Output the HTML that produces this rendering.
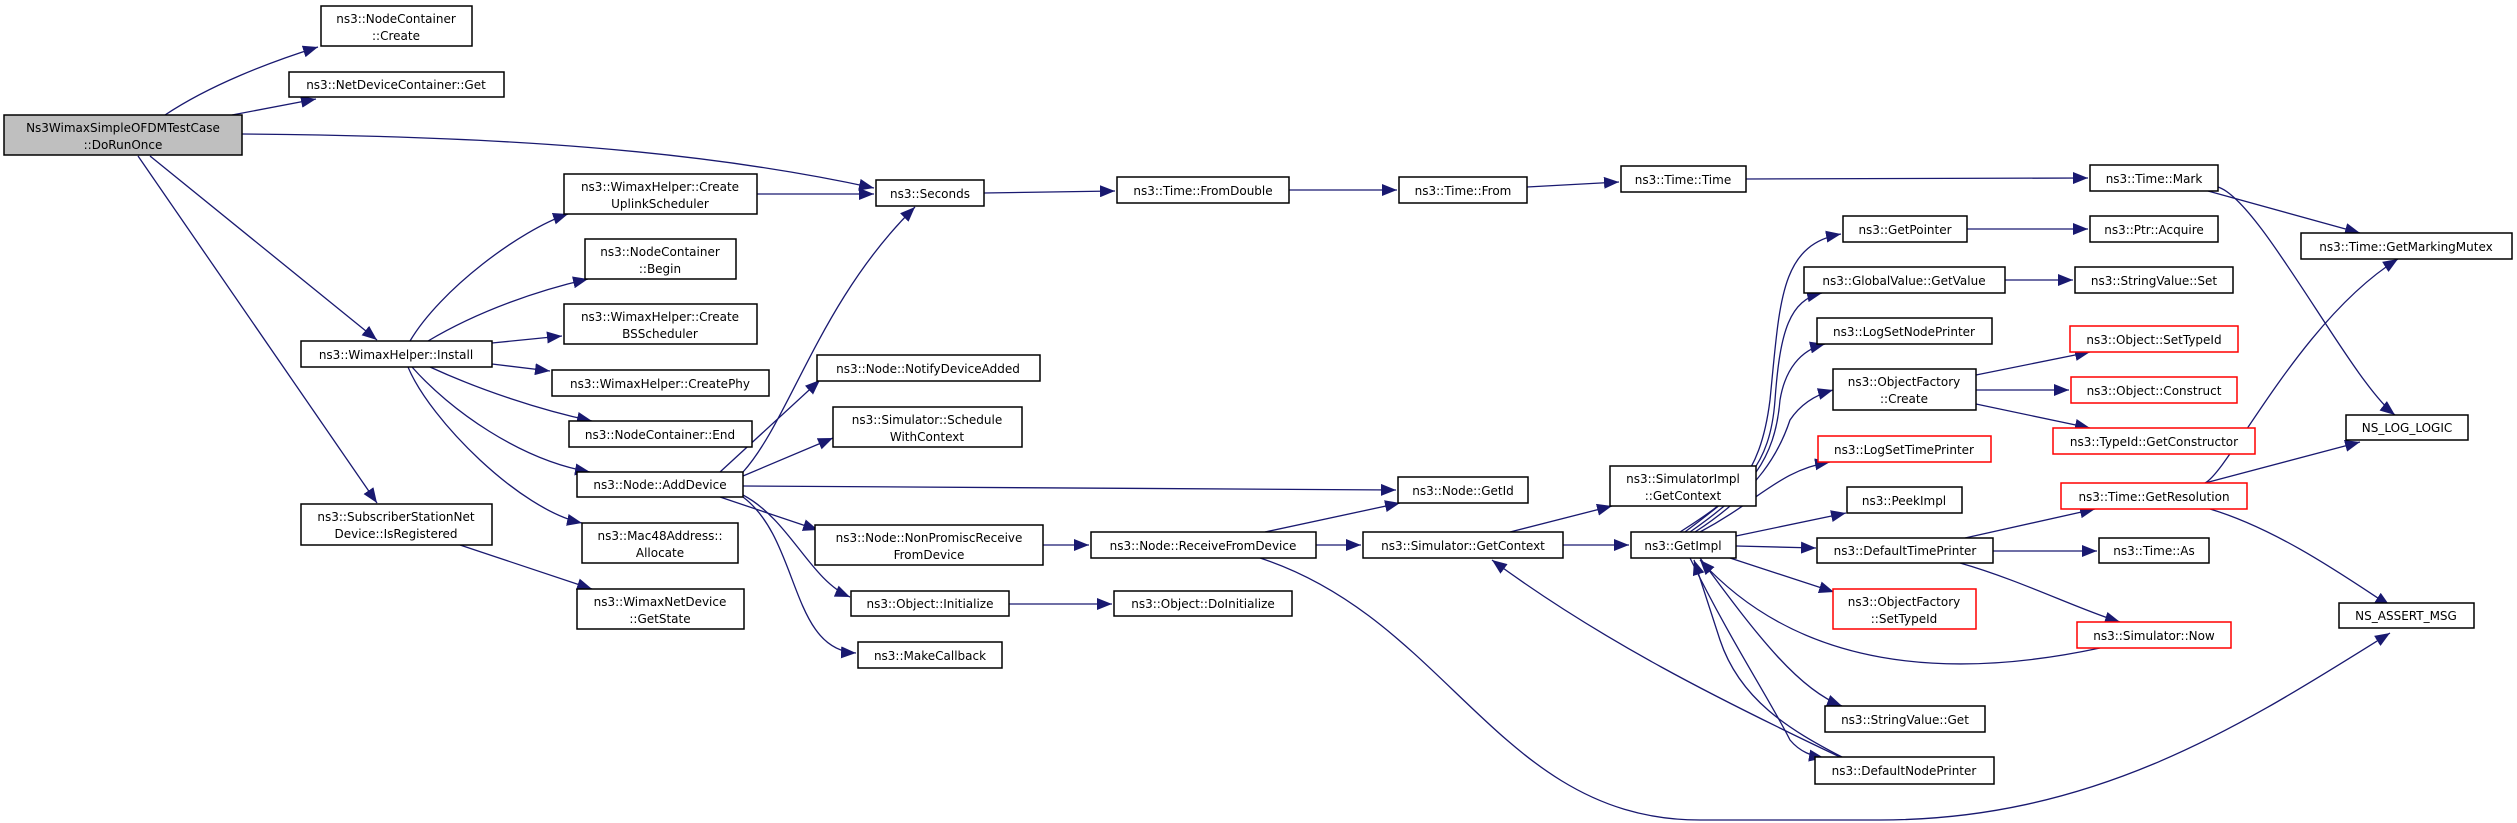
<!DOCTYPE html>
<html><head><meta charset="utf-8"><style>
html,body{margin:0;padding:0;background:#fff;}
svg{display:block;}
text{font-family:"DejaVu Sans","Liberation Sans",sans-serif;font-size:12px;fill:#000;text-anchor:middle;}
.n{fill:#fff;stroke:#000;stroke-width:1.5;}
.r{fill:#fff;stroke:#ff0000;stroke-width:1.5;}
.g{fill:#bfbfbf;stroke:#000;stroke-width:1.5;}
path.e{fill:none;stroke:#191970;stroke-width:1.3;marker-end:url(#a);}
</style></head><body>
<svg width="2517" height="823" viewBox="0 0 2517 823" xmlns="http://www.w3.org/2000/svg">
<defs><marker id="a" markerUnits="userSpaceOnUse" markerWidth="16" markerHeight="12" refX="15" refY="6" orient="auto"><path d="M0,0 L15,6 L0,12 z" fill="#191970"/></marker></defs>

<!-- edges -->
<path class="e" d="M165,115 C210,85 270,62 318,47"/>
<path class="e" d="M232,115 L316,99"/>
<path class="e" d="M242,134 C500,136 700,150 874,188"/>
<path class="e" d="M150,156 L377,340"/>
<path class="e" d="M138,156 L377,503"/>
<path class="e" d="M460,545 L592,589"/>
<path class="e" d="M410,341 C440,290 520,230 568,214"/>
<path class="e" d="M428,341 C480,310 540,290 588,279"/>
<path class="e" d="M492,343 L562,336"/>
<path class="e" d="M492,364 L550,371"/>
<path class="e" d="M430,367 C480,390 540,410 592,421"/>
<path class="e" d="M412,367 C450,410 520,460 590,472"/>
<path class="e" d="M408,367 C430,420 520,510 582,523"/>
<path class="e" d="M757,194 L874,194"/>
<path class="e" d="M743,472 C790,420 820,300 915,207"/>
<path class="e" d="M720,472 L820,380"/>
<path class="e" d="M743,476 L833,438"/>
<path class="e" d="M743,486 L1396,490"/>
<path class="e" d="M720,497 L818,530"/>
<path class="e" d="M743,495 C790,520 810,580 850,597"/>
<path class="e" d="M743,497 C800,540 790,650 856,653"/>
<path class="e" d="M1043,545 L1089,545"/>
<path class="e" d="M1265,532 L1400,503"/>
<path class="e" d="M1316,545 L1361,545"/>
<path class="e" d="M1260,558 C1450,620 1500,820 1700,820 L1880,820 C2100,820 2250,720 2390,633"/>
<path class="e" d="M1009,604 L1112,604"/>
<path class="e" d="M1510,532 L1612,506"/>
<path class="e" d="M1563,545 L1629,545"/>
<path class="e" d="M984,193 L1115,191"/>
<path class="e" d="M1289,190 L1397,190"/>
<path class="e" d="M1527,187 L1619,182"/>
<path class="e" d="M1746,179 L2088,178"/>
<path class="e" d="M2208,191 L2360,233"/>
<path class="e" d="M2218,187 C2260,200 2350,380 2395,415"/>
<path class="e" d="M1967,229 L2088,229"/>
<path class="e" d="M2005,280 L2073,280"/>
<path class="e" d="M1976,375 L2090,352"/>
<path class="e" d="M1976,390 L2069,390"/>
<path class="e" d="M1976,404 L2090,428"/>
<path class="e" d="M1680,532 C1730,500 1760,480 1770,400 C1780,300 1780,245 1841,234"/>
<path class="e" d="M1685,532 C1740,490 1770,470 1775,400 C1780,330 1790,300 1822,293"/>
<path class="e" d="M1690,532 C1750,490 1775,460 1780,400 C1785,370 1800,350 1825,344"/>
<path class="e" d="M1695,532 C1760,490 1780,450 1790,420 C1800,405 1815,395 1833,390"/>
<path class="e" d="M1700,532 C1760,500 1780,470 1830,462"/>
<path class="e" d="M1736,536 L1846,513"/>
<path class="e" d="M1736,546 L1816,548"/>
<path class="e" d="M1730,558 L1834,592"/>
<path class="e" d="M1700,558 C1760,640 1800,690 1842,706"/>
<path class="e" d="M1690,558 C1730,640 1770,700 1790,740 C1800,752 1812,756 1824,758"/>
<path class="e" d="M1842,757 C1790,730 1740,700 1720,640 L1694,560"/>
<path class="e" d="M1840,757 C1720,700 1600,640 1492,560"/>
<path class="e" d="M2100,648 C1950,680 1800,670 1700,560"/>
<path class="e" d="M1965,538 L2095,509"/>
<path class="e" d="M1993,551 L2097,551"/>
<path class="e" d="M1960,563 C2020,580 2080,610 2120,622"/>
<path class="e" d="M2205,483 C2230,470 2300,320 2398,259"/>
<path class="e" d="M2205,483 L2360,442"/>
<path class="e" d="M2210,509 C2280,530 2350,580 2390,606"/>

<!-- nodes -->
<rect class="g" x="4" y="115" width="238" height="40"/><text x="123" y="132">Ns3WimaxSimpleOFDMTestCase</text><text x="123" y="149">::DoRunOnce</text>
<rect class="n" x="321" y="6" width="151" height="40"/><text x="396" y="23">ns3::NodeContainer</text><text x="396" y="40">::Create</text>
<rect class="n" x="289" y="72" width="215" height="25"/><text x="396" y="89">ns3::NetDeviceContainer::Get</text>
<rect class="n" x="564" y="174" width="193" height="40"/><text x="660" y="191">ns3::WimaxHelper::Create</text><text x="660" y="208">UplinkScheduler</text>
<rect class="n" x="585" y="239" width="151" height="40"/><text x="660" y="256">ns3::NodeContainer</text><text x="660" y="273">::Begin</text>
<rect class="n" x="564" y="304" width="193" height="40"/><text x="660" y="321">ns3::WimaxHelper::Create</text><text x="660" y="338">BSScheduler</text>
<rect class="n" x="301" y="341" width="191" height="26"/><text x="396" y="359">ns3::WimaxHelper::Install</text>
<rect class="n" x="552" y="370" width="217" height="26"/><text x="660" y="388">ns3::WimaxHelper::CreatePhy</text>
<rect class="n" x="569" y="421" width="183" height="26"/><text x="660" y="439">ns3::NodeContainer::End</text>
<rect class="n" x="577" y="472" width="166" height="25"/><text x="660" y="489">ns3::Node::AddDevice</text>
<rect class="n" x="301" y="504" width="191" height="41"/><text x="396" y="521">ns3::SubscriberStationNet</text><text x="396" y="538">Device::IsRegistered</text>
<rect class="n" x="582" y="523" width="156" height="40"/><text x="660" y="540">ns3::Mac48Address::</text><text x="660" y="557">Allocate</text>
<rect class="n" x="577" y="589" width="167" height="40"/><text x="660" y="606">ns3::WimaxNetDevice</text><text x="660" y="623">::GetState</text>

<rect class="n" x="876" y="180" width="108" height="26"/><text x="930" y="198">ns3::Seconds</text>
<rect class="n" x="1117" y="177" width="172" height="26"/><text x="1203" y="195">ns3::Time::FromDouble</text>
<rect class="n" x="1399" y="177" width="128" height="26"/><text x="1463" y="195">ns3::Time::From</text>
<rect class="n" x="1621" y="166" width="125" height="26"/><text x="1683" y="184">ns3::Time::Time</text>
<rect class="n" x="2090" y="165" width="128" height="26"/><text x="2154" y="183">ns3::Time::Mark</text>
<rect class="n" x="2301" y="233" width="211" height="26"/><text x="2406" y="251">ns3::Time::GetMarkingMutex</text>
<rect class="n" x="817" y="355" width="223" height="26"/><text x="928" y="373">ns3::Node::NotifyDeviceAdded</text>
<rect class="n" x="833" y="407" width="189" height="40"/><text x="927" y="424">ns3::Simulator::Schedule</text><text x="927" y="441">WithContext</text>
<rect class="n" x="1398" y="477" width="130" height="26"/><text x="1463" y="495">ns3::Node::GetId</text>
<rect class="n" x="815" y="525" width="228" height="40"/><text x="929" y="542">ns3::Node::NonPromiscReceive</text><text x="929" y="559">FromDevice</text>
<rect class="n" x="1091" y="532" width="225" height="26"/><text x="1203" y="550">ns3::Node::ReceiveFromDevice</text>
<rect class="n" x="1363" y="532" width="200" height="26"/><text x="1463" y="550">ns3::Simulator::GetContext</text>
<rect class="n" x="1610" y="466" width="146" height="40"/><text x="1683" y="483">ns3::SimulatorImpl</text><text x="1683" y="500">::GetContext</text>
<rect class="n" x="1631" y="532" width="105" height="26"/><text x="1683" y="550">ns3::GetImpl</text>
<rect class="n" x="851" y="591" width="158" height="25"/><text x="930" y="608">ns3::Object::Initialize</text>
<rect class="n" x="1114" y="591" width="178" height="25"/><text x="1203" y="608">ns3::Object::DoInitialize</text>
<rect class="n" x="858" y="642" width="144" height="26"/><text x="930" y="660">ns3::MakeCallback</text>

<rect class="n" x="1843" y="216" width="124" height="26"/><text x="1905" y="234">ns3::GetPointer</text>
<rect class="n" x="2090" y="216" width="128" height="26"/><text x="2154" y="234">ns3::Ptr::Acquire</text>
<rect class="n" x="1804" y="267" width="201" height="26"/><text x="1904" y="285">ns3::GlobalValue::GetValue</text>
<rect class="n" x="2075" y="267" width="158" height="26"/><text x="2154" y="285">ns3::StringValue::Set</text>
<rect class="n" x="1817" y="318" width="175" height="26"/><text x="1904" y="336">ns3::LogSetNodePrinter</text>
<rect class="n" x="1833" y="369" width="143" height="41"/><text x="1904" y="386">ns3::ObjectFactory</text><text x="1904" y="403">::Create</text>
<rect class="r" x="2070" y="326" width="168" height="26"/><text x="2154" y="344">ns3::Object::SetTypeId</text>
<rect class="r" x="2071" y="377" width="166" height="26"/><text x="2154" y="395">ns3::Object::Construct</text>
<rect class="r" x="2053" y="428" width="202" height="26"/><text x="2154" y="446">ns3::TypeId::GetConstructor</text>
<rect class="n" x="2346" y="415" width="122" height="25"/><text x="2407" y="432">NS_LOG_LOGIC</text>
<rect class="r" x="1818" y="436" width="173" height="26"/><text x="1904" y="454">ns3::LogSetTimePrinter</text>
<rect class="r" x="2061" y="483" width="186" height="26"/><text x="2154" y="501">ns3::Time::GetResolution</text>
<rect class="n" x="1847" y="487" width="115" height="26"/><text x="1904" y="505">ns3::PeekImpl</text>
<rect class="n" x="1817" y="538" width="176" height="25"/><text x="1905" y="555">ns3::DefaultTimePrinter</text>
<rect class="n" x="2099" y="538" width="110" height="25"/><text x="2154" y="555">ns3::Time::As</text>
<rect class="r" x="1833" y="589" width="143" height="40"/><text x="1904" y="606">ns3::ObjectFactory</text><text x="1904" y="623">::SetTypeId</text>
<rect class="n" x="2339" y="603" width="135" height="25"/><text x="2406" y="620">NS_ASSERT_MSG</text>
<rect class="r" x="2077" y="622" width="154" height="26"/><text x="2154" y="640">ns3::Simulator::Now</text>
<rect class="n" x="1825" y="706" width="160" height="26"/><text x="1905" y="724">ns3::StringValue::Get</text>
<rect class="n" x="1815" y="757" width="179" height="27"/><text x="1904" y="775">ns3::DefaultNodePrinter</text>
</svg>
</body></html>
